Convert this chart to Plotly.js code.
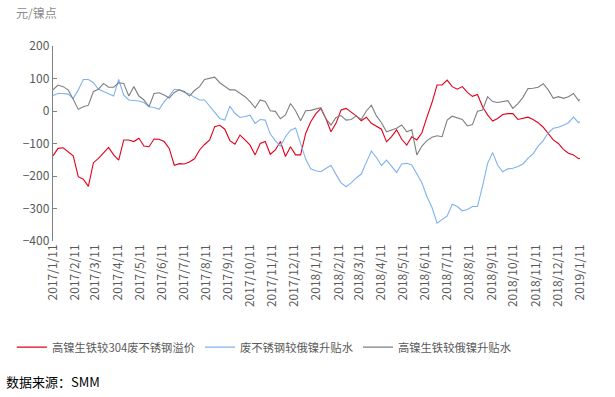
<!DOCTYPE html>
<html>
<head>
<meta charset="utf-8">
<script src="https://cdn.plot.ly/plotly-3.0.1.min.js"></script>
<style>html,body{margin:0;padding:0;background:#fff;}#chart{width:615px;height:397px;}</style>
</head>
<body>
<div id="chart"></div>
<script>
const dates = [
"2017-01-11","2017-01-18","2017-01-25","2017-02-01","2017-02-08","2017-02-15","2017-02-22","2017-03-01","2017-03-08","2017-03-15",
"2017-03-22","2017-03-29","2017-04-05","2017-04-12","2017-04-19","2017-04-26","2017-05-03","2017-05-10","2017-05-17","2017-05-24",
"2017-05-31","2017-06-07","2017-06-14","2017-06-21","2017-06-28","2017-07-05","2017-07-12","2017-07-19","2017-07-26","2017-08-02",
"2017-08-09","2017-08-16","2017-08-23","2017-08-30","2017-09-06","2017-09-13","2017-09-20","2017-09-27","2017-10-04","2017-10-11",
"2017-10-18","2017-10-25","2017-11-01","2017-11-08","2017-11-15","2017-11-22","2017-11-29","2017-12-06","2017-12-13","2017-12-20",
"2017-12-27","2018-01-03","2018-01-10","2018-01-17","2018-01-24","2018-01-31","2018-02-07","2018-02-14","2018-02-21","2018-02-28",
"2018-03-07","2018-03-14","2018-03-21","2018-03-28","2018-04-04","2018-04-11","2018-04-18","2018-04-25","2018-05-02","2018-05-09",
"2018-05-16","2018-05-23","2018-05-30","2018-06-06","2018-06-13","2018-06-20","2018-06-27","2018-07-04","2018-07-11","2018-07-18",
"2018-07-25","2018-08-01","2018-08-08","2018-08-15","2018-08-22","2018-08-29","2018-09-05","2018-09-12","2018-09-19","2018-09-26",
"2018-10-03","2018-10-10","2018-10-17","2018-10-24","2018-10-31","2018-11-07","2018-11-14","2018-11-21","2018-11-28","2018-12-05",
"2018-12-12","2018-12-19","2018-12-26","2019-01-02","2019-01-09","2019-01-11"];

const npiVsScrap = [
-138,-115,-113,-125,-138,-202,-210,-232,-159,-146,
-130,-112,-135,-151,-89,-89,-94,-84,-108,-110,
-86,-87,-94,-115,-167,-162,-163,-157,-147,-120,
-103,-89,-48,-44,-56,-91,-102,-74,-89,-105,
-135,-100,-94,-133,-120,-94,-140,-110,-135,-135,
-69,-33,-9,8,-23,-64,-38,3,8,-4,
-15,-30,-19,-38,-46,-56,-95,-79,-58,-87,
-105,-79,-89,-67,-19,26,80,80,95,75,
67,75,57,45,51,13,-12,-31,-23,-11,
-8,-8,-26,-22,-19,-26,-36,-50,-69,-89,
-100,-118,-130,-135,-147,-146];

const scrapVsRuNi = [
48,54,54,52,39,65,97,97,87,67,
60,52,46,97,49,34,32,31,26,13,
11,5,29,46,67,65,57,52,42,34,
34,15,-7,-23,-28,15,-7,-20,-17,-13,
-38,-26,-28,-71,-91,-108,-79,-59,-52,-101,
-148,-178,-184,-187,-178,-167,-195,-221,-233,-221,
-206,-194,-158,-123,-143,-168,-151,-171,-189,-163,
-161,-166,-194,-221,-264,-297,-345,-333,-323,-287,
-294,-307,-303,-294,-294,-231,-161,-128,-167,-187,
-178,-176,-171,-163,-145,-132,-108,-91,-67,-53,
-50,-44,-36,-19,-36,-33];

const npiVsRuNi = [
65,80,75,65,36,5,13,18,60,67,
85,73,73,87,85,46,75,46,34,13,
54,56,49,40,57,65,60,46,63,75,
97,100,104,87,75,65,65,54,44,29,
10,34,29,1,-1,-24,-12,23,1,-30,
1,2,6,10,-24,-43,-20,-14,-28,-26,
-15,-26,0,18,-15,-36,-64,-58,-53,-43,
-64,-58,-135,-108,-91,-81,-76,-79,-28,-16,
-22,-26,-46,-42,-1,3,44,29,26,30,
32,8,23,42,69,70,73,84,65,39,
44,39,44,54,32,36];

const seriesNames = ["高镍生铁较304废不锈钢溢价","废不锈钢较俄镍升贴水","高镍生铁较俄镍升贴水"];

const tickDates = ["2017-01-11","2017-02-11","2017-03-11","2017-04-11","2017-05-11","2017-06-11","2017-07-11","2017-08-11","2017-09-11","2017-10-11","2017-11-11","2017-12-11",
"2018-01-11","2018-02-11","2018-03-11","2018-04-11","2018-05-11","2018-06-11","2018-07-11","2018-08-11","2018-09-11","2018-10-11","2018-11-11","2018-12-11","2019-01-11"];
const tickLabels = ["2017/1/11","2017/2/11","2017/3/11","2017/4/11","2017/5/11","2017/6/11","2017/7/11","2017/8/11","2017/9/11","2017/10/11","2017/11/11","2017/12/11",
"2018/1/11","2018/2/11","2018/3/11","2018/4/11","2018/5/11","2018/6/11","2018/7/11","2018/8/11","2018/9/11","2018/10/11","2018/11/11","2018/12/11","2019/1/11"];

const FONT = '"Noto Sans CJK SC", "Microsoft YaHei", sans-serif';
const AX = '#808080';
const TXT = '#595959';

const traces = [
  {x: dates, y: npiVsScrap, name: seriesNames[0], type: 'scatter', mode: 'lines', line: {color: '#e0001b', width: 1.1}},
  {x: dates, y: scrapVsRuNi, name: seriesNames[1], type: 'scatter', mode: 'lines', line: {color: '#7fb2ee', width: 1.1}},
  {x: dates, y: npiVsRuNi, name: seriesNames[2], type: 'scatter', mode: 'lines', line: {color: '#7f7f7f', width: 1.1}}
];

const layout = {
  width: 615, height: 397, autosize: false,
  margin: {l: 53, r: 35, t: 46, b: 156, pad: 0},
  paper_bgcolor: '#ffffff', plot_bgcolor: '#ffffff',
  font: {family: FONT, size: 12, color: TXT},
  showlegend: true,
  legend: {orientation: 'h', x: -0.078, xanchor: 'left', y: -0.544, yanchor: 'middle',
           font: {family: FONT, size: 11.3, color: TXT}, itemwidth: 30, tracegroupgap: 0,
           bgcolor: 'rgba(0,0,0,0)'},
  xaxis: {type: 'date', range: ['2017-01-11', '2019-01-11'], tickmode: 'array', tickvals: tickDates, ticktext: tickLabels,
          tickangle: -90, showline: false, ticks: '', showgrid: false, zeroline: false,
          tickfont: {family: FONT, size: 12, color: TXT}},
  xaxis2: {type: 'date', overlaying: 'x', anchor: 'free', position: 0.6667, side: 'bottom',
           range: ['2017-01-11', '2019-01-11'], tickmode: 'array', tickvals: tickDates,
           showticklabels: false, showline: true, linecolor: AX, linewidth: 1.3,
           ticks: 'inside', ticklen: 4, tickcolor: AX, tickwidth: 1, showgrid: false, zeroline: false, layer: 'below traces'},
  yaxis: {range: [-400, 200], tickmode: 'array', tickvals: [-400, -300, -200, -100, 0, 100, 200],
          showline: true, linecolor: AX, linewidth: 1.3, ticks: 'inside', ticklen: 4, tickcolor: AX,
          showgrid: false, zeroline: false, tickfont: {family: FONT, size: 12, color: TXT}},
  annotations: [
    {text: '元/镍点', xref: 'paper', yref: 'paper', x: -0.074, y: 1.17, xanchor: 'left', yanchor: 'middle',
     showarrow: false, font: {family: FONT, size: 12, color: '#8c8c8c'}},
    {text: '数据来源：SMM', xref: 'paper', yref: 'paper', x: -0.093, y: -0.718, xanchor: 'left', yanchor: 'middle',
     showarrow: false, font: {family: FONT, size: 13, color: '#000000'}}
  ]
};

Plotly.newPlot('chart', traces, layout, {staticPlot: true, displayModeBar: false});
</script>
</body>
</html>
